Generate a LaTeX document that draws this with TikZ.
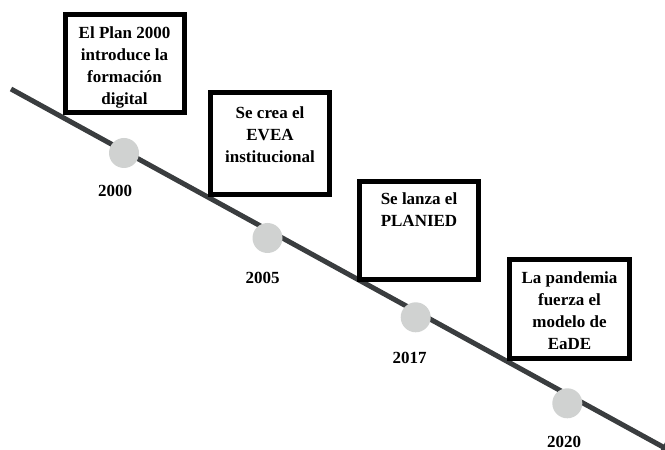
\documentclass[tikz,border=0pt]{standalone}
\usepackage{fontspec}
\setmainfont{Liberation Serif}
\usetikzlibrary{arrows.meta}
\definecolor{linegray}{RGB}{58,61,63}
\definecolor{dotgray}{RGB}{208,210,209}
\begin{document}
\begin{tikzpicture}[x=1bp,y=-1bp,
  txt/.style={font=\bfseries\fontsize{17bp}{22bp}\selectfont, align=center, inner sep=0pt, anchor=north},
  evbox/.style={draw=black, line width=5bp, fill=white, minimum width=119bp, inner sep=0pt},
  dot/.style={circle, fill=dotgray, minimum size=30bp, inner sep=0pt},
  year/.style={font=\bfseries\fontsize{17bp}{22bp}\selectfont, inner sep=0pt, anchor=base}]
\useasboundingbox (0,0) rectangle (665,450);
\coordinate (s) at (11,89);
\coordinate (e) at (674,453);
\draw[linegray, line width=5bp, -{Triangle[length=13bp,width=13bp]}] (s) -- (e);
% boxes
\node[evbox, minimum height=98bp] (b1) at (124.5,63.5) {};
\node[evbox, minimum height=102bp] (b2) at (270,143.5) {};
\node[evbox, minimum height=98bp] (b3) at (419,230.5) {};
\node[evbox, minimum width=120bp, minimum height=99bp] (b4) at (569.5,309) {};
\node[txt] (t1) at ([yshift=-11bp]b1.north) {\strut El Plan 2000\\introduce la\\formación\\digital};
\node[txt] (t2) at ([yshift=-12.5bp]b2.north) {\strut Se crea el\\EVEA\\institucional};
\node[txt] (t3) at ([yshift=-10bp]b3.north) {\strut Se lanza el\\PLANIED};
\node[txt] (t4) at ([yshift=-11bp]b4.north) {\strut La pandemia\\fuerza el\\modelo de\\EaDE};
% dots
\node[dot] (d1) at (124,153) {};
\node[dot] (d2) at (267.5,238) {};
\node[dot] (d3) at (415.7,317.3) {};
\node[dot] (d4) at (567.3,403.3) {};
% years
\node[year] (y1) at (115,197) {2000};
\node[year] (y2) at (262.5,284) {2005};
\node[year] (y3) at (409.7,363) {2017};
\node[year] (y4) at (564,447.5) {2020};
\end{tikzpicture}
\end{document}
